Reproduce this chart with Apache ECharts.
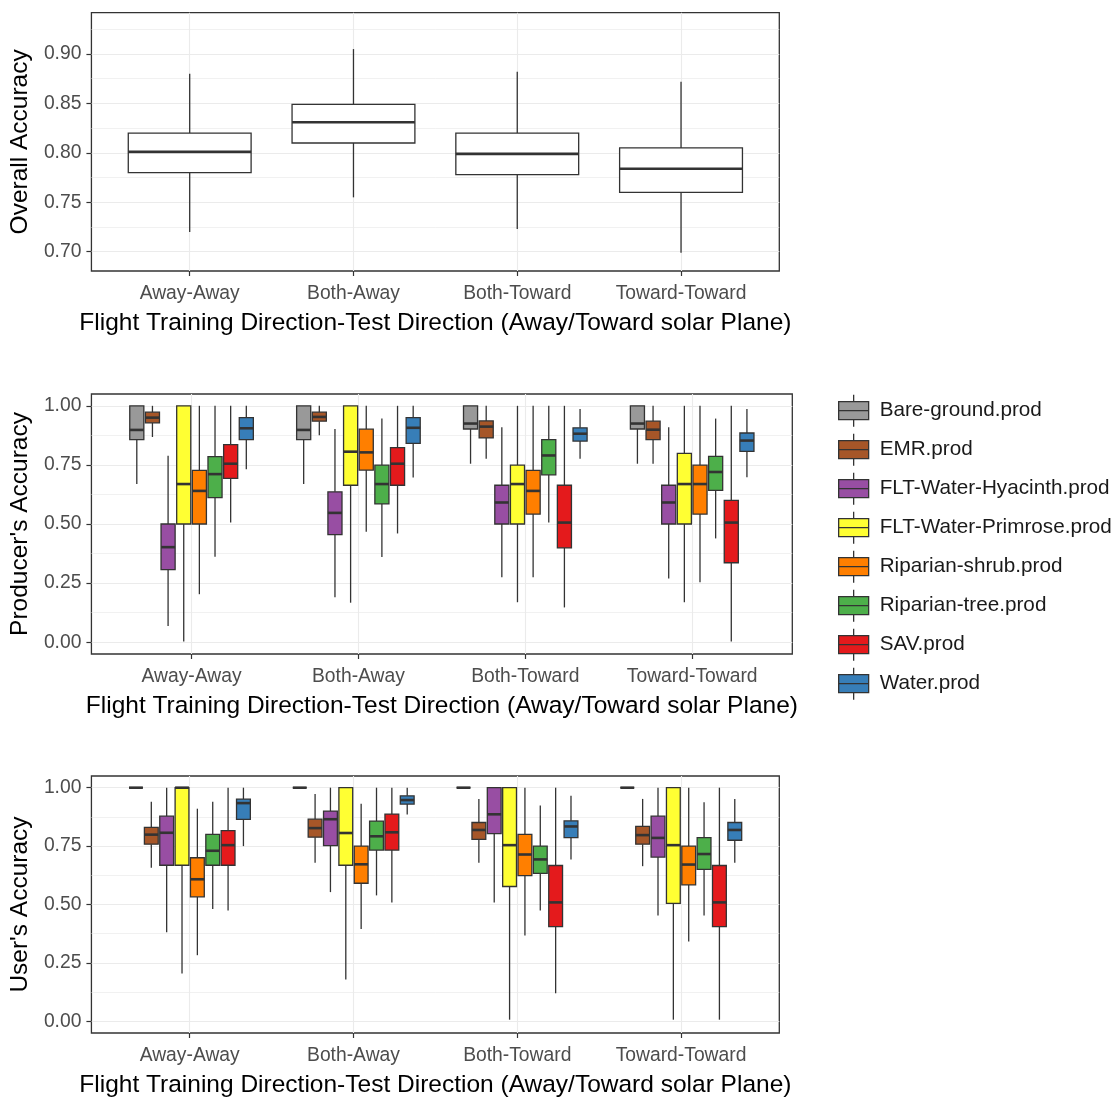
<!DOCTYPE html>
<html>
<head>
<meta charset="utf-8">
<title>Accuracy by flight direction</title>
<script src="https://cdn.jsdelivr.net/npm/echarts@6/dist/echarts.min.js"></script>
<style>
  html, body { margin: 0; padding: 0; background: #ffffff; }
  #chart { width: 1119px; height: 1099px; }
</style>
</head>
<body>
<div id="chart"></div>
<script>
// Category labels (training direction - test direction)
const directions = ['Away-Away', 'Both-Away', 'Both-Toward', 'Toward-Toward'];

// Land-cover classes and their fills
const classNames = [
  'Bare-ground.prod', 'EMR.prod', 'FLT-Water-Hyacinth.prod', 'FLT-Water-Primrose.prod',
  'Riparian-shrub.prod', 'Riparian-tree.prod', 'SAV.prod', 'Water.prod'
];
const classColors = ['#999999', '#A65628', '#984EA3', '#FFFF33', '#FF7F00', '#4DAF4A', '#E41A1C', '#377EB8'];

// Each entry: [lower whisker, Q1, median, Q3, upper whisker], one per direction
const overallAccuracy = [
  [0.720, 0.780, 0.801, 0.820, 0.880],
  [0.755, 0.810, 0.831, 0.849, 0.905],
  [0.723, 0.778, 0.799, 0.820, 0.882],
  [0.699, 0.760, 0.784, 0.805, 0.872]
];

// Producer's accuracy per class
const prodBareGround = [[0.669, 0.857, 0.898, 1.0, 1.0], [0.669, 0.857, 0.898, 1.0, 1.0], [0.755, 0.902, 0.925, 1.0, 1.0], [0.755, 0.902, 0.925, 1.0, 1.0]];
const prodEMR = [[0.868, 0.928, 0.950, 0.973, 1.0], [0.875, 0.935, 0.953, 0.973, 1.0], [0.776, 0.864, 0.912, 0.936, 1.0], [0.755, 0.857, 0.899, 0.935, 1.0]];
const prodHyacinth = [[0.068, 0.307, 0.402, 0.500, 0.789], [0.190, 0.455, 0.547, 0.636, 0.902], [0.275, 0.500, 0.591, 0.664, 0.909], [0.269, 0.500, 0.591, 0.664, 0.909]];
const prodPrimrose = [[0.003, 0.500, 0.669, 1.0, 1.0], [0.167, 0.664, 0.806, 1.0, 1.0], [0.169, 0.500, 0.669, 0.749, 1.0], [0.169, 0.500, 0.669, 0.799, 1.0]];
const prodRipShrub = [[0.203, 0.500, 0.640, 0.727, 1.0], [0.467, 0.728, 0.803, 0.901, 1.0], [0.275, 0.542, 0.640, 0.727, 1.0], [0.254, 0.542, 0.669, 0.749, 1.0]];
const prodRipTree = [[0.361, 0.612, 0.711, 0.785, 1.0], [0.360, 0.585, 0.669, 0.749, 0.946], [0.506, 0.708, 0.790, 0.857, 1.0], [0.439, 0.642, 0.720, 0.786, 0.946]];
const prodSAV = [[0.506, 0.693, 0.755, 0.836, 1.0], [0.460, 0.664, 0.755, 0.823, 1.0], [0.147, 0.399, 0.506, 0.664, 1.0], [0.003, 0.336, 0.506, 0.600, 1.0]];
const prodWater = [[0.732, 0.857, 0.905, 0.950, 1.0], [0.697, 0.841, 0.907, 0.950, 1.0], [0.776, 0.851, 0.882, 0.907, 0.987], [0.698, 0.807, 0.853, 0.885, 0.987]];

// User's accuracy per class
const userBareGround = [[1.0, 1.0, 1.0, 1.0, 1.0], [1.0, 1.0, 1.0, 1.0, 1.0], [1.0, 1.0, 1.0, 1.0, 1.0], [1.0, 1.0, 1.0, 1.0, 1.0]];
const userEMR = [[0.657, 0.758, 0.799, 0.830, 0.940], [0.679, 0.788, 0.827, 0.865, 0.973], [0.679, 0.779, 0.819, 0.851, 0.952], [0.664, 0.758, 0.797, 0.834, 0.952]];
const userHyacinth = [[0.381, 0.668, 0.807, 0.878, 1.0], [0.553, 0.752, 0.865, 0.900, 1.0], [0.509, 0.803, 0.886, 1.0, 1.0], [0.453, 0.703, 0.785, 0.878, 1.0]];
const userPrimrose = [[0.205, 0.668, 1.0, 1.0, 1.0], [0.179, 0.668, 0.806, 1.0, 1.0], [0.007, 0.577, 0.754, 1.0, 1.0], [0.007, 0.505, 0.754, 1.0, 1.0]];
const userRipShrub = [[0.283, 0.533, 0.608, 0.700, 0.910], [0.395, 0.591, 0.672, 0.750, 0.931], [0.367, 0.624, 0.714, 0.800, 1.0], [0.342, 0.584, 0.671, 0.750, 1.0]];
const userRipTree = [[0.481, 0.668, 0.730, 0.800, 0.940], [0.539, 0.733, 0.792, 0.857, 1.0], [0.474, 0.633, 0.693, 0.750, 0.924], [0.453, 0.650, 0.716, 0.786, 0.938]];
const userSAV = [[0.474, 0.668, 0.754, 0.816, 1.0], [0.509, 0.733, 0.809, 0.887, 1.0], [0.120, 0.405, 0.509, 0.667, 1.0], [0.007, 0.405, 0.509, 0.667, 1.0]];
const userWater = [[0.750, 0.864, 0.934, 0.951, 1.0], [0.885, 0.930, 0.947, 0.965, 1.0], [0.693, 0.786, 0.834, 0.858, 0.966], [0.679, 0.775, 0.819, 0.851, 0.952]];

// Tick values
const overallTicks = [0.70, 0.75, 0.80, 0.85, 0.90];
const overallMinor = [0.725, 0.775, 0.825, 0.875, 0.925];
const classTicks = [0, 0.25, 0.5, 0.75, 1.0];
const classMinor = [0.125, 0.375, 0.625, 0.875];

const producerSeries = [prodBareGround, prodEMR, prodHyacinth, prodPrimrose, prodRipShrub, prodRipTree, prodSAV, prodWater];
const userSeries = [userBareGround, userEMR, userHyacinth, userPrimrose, userRipShrub, userRipTree, userSAV, userWater];

const FONT = 'Liberation Sans, Arial, sans-serif';
const INK = '#333333';
const GRID_LINE = '#EBEBEB';
const GROUP_WIDTH = 0.75;

// Box-and-whisker drawn in data coordinates; slot/nSlots dodge boxes within a category
function boxRenderer(slot, nSlots, fill) {
  return function (params, api) {
    const slotW = GROUP_WIDTH / nSlots;
    const x = api.value(0) - GROUP_WIDTH / 2 + slotW * (slot + 0.5);
    const boxW = nSlots > 1 ? slotW * 0.9 : slotW;
    const pLow = api.coord([x, api.value(1)]);
    const pQ1 = api.coord([x, api.value(2)]);
    const pMed = api.coord([x, api.value(3)]);
    const pQ3 = api.coord([x, api.value(4)]);
    const pHigh = api.coord([x, api.value(5)]);
    const half = api.size([boxW, 0])[0] / 2;
    const lw = 1.3;
    return {
      type: 'group',
      children: [
        { type: 'line', shape: { x1: pLow[0], y1: pLow[1], x2: pQ1[0], y2: pQ1[1] }, style: { stroke: INK, lineWidth: lw } },
        { type: 'line', shape: { x1: pQ3[0], y1: pQ3[1], x2: pHigh[0], y2: pHigh[1] }, style: { stroke: INK, lineWidth: lw } },
        { type: 'rect', shape: { x: pQ1[0] - half, y: pQ3[1], width: half * 2, height: pQ1[1] - pQ3[1] },
          style: { fill: fill, stroke: INK, lineWidth: lw } },
        { type: 'line', shape: { x1: pMed[0] - half, y1: pMed[1], x2: pMed[0] + half, y2: pMed[1] },
          style: { stroke: INK, lineWidth: 2.6 } }
      ]
    };
  };
}

function toItems(stats) {
  return stats.map((s, i) => [i + 1].concat(s));
}

const tickLabelStyle = { fontFamily: FONT, fontSize: 19.3, color: '#4D4D4D' };
const nameStyle = { fontFamily: FONT, fontSize: 24.5, color: '#000000' };

function xAxisFor(gridIndex, name) {
  return {
    type: 'value', gridIndex: gridIndex, min: 0.4, max: 4.6, position: 'bottom',
    name: name, nameLocation: 'middle', nameGap: 40, nameTextStyle: nameStyle,
    axisLine: { show: false, onZero: false },
    axisTick: { show: true, length: 5, customValues: [1, 2, 3, 4], lineStyle: { color: INK, width: 1.2 } },
    axisLabel: { customValues: [1, 2, 3, 4], margin: 13, formatter: v => directions[Math.round(v) - 1], ...tickLabelStyle },
    splitLine: { show: true, lineStyle: { color: GRID_LINE, width: 1.1 } }
  };
}

function yAxesFor(gridIndex, name, min, max, ticks, minor) {
  return [{
    type: 'value', gridIndex: gridIndex, min: min, max: max, position: 'left',
    name: name, nameLocation: 'middle', nameGap: 50, nameTextStyle: nameStyle,
    axisLine: { show: false, onZero: false },
    axisTick: { show: true, length: 5, customValues: ticks, lineStyle: { color: INK, width: 1.2 } },
    axisLabel: { customValues: ticks, margin: 10, formatter: v => v.toFixed(2), ...tickLabelStyle },
    splitLine: { show: true, lineStyle: { color: GRID_LINE, width: 1.1 } }
  }, {
    type: 'value', gridIndex: gridIndex, min: min, max: max, position: 'left',
    axisLine: { show: false, onZero: false },
    axisTick: { show: false, customValues: minor },
    axisLabel: { show: false },
    splitLine: { show: true, lineStyle: { color: GRID_LINE, width: 0.7 } }
  }];
}

const xTitle = 'Flight Training Direction-Test Direction (Away/Toward solar Plane)';

const series = [{
  name: 'Overall Accuracy', type: 'custom', xAxisIndex: 0, yAxisIndex: 0,
  renderItem: boxRenderer(0, 1, '#FFFFFF'),
  encode: { x: 0, y: [1, 2, 3, 4, 5] },
  data: toItems(overallAccuracy), z: 3
}];

classNames.forEach((name, i) => {
  series.push({
    name: name, type: 'custom', xAxisIndex: 1, yAxisIndex: 2,
    color: classColors[i], itemStyle: { color: classColors[i] },
    renderItem: boxRenderer(i, classNames.length, classColors[i]),
    encode: { x: 0, y: [1, 2, 3, 4, 5] },
    data: toItems(producerSeries[i]), z: 3
  });
  series.push({
    name: name, type: 'custom', xAxisIndex: 2, yAxisIndex: 4,
    color: classColors[i], itemStyle: { color: classColors[i] },
    renderItem: boxRenderer(i, classNames.length, classColors[i]),
    encode: { x: 0, y: [1, 2, 3, 4, 5] },
    data: toItems(userSeries[i]), z: 3
  });
});

const gridFrame = { show: true, borderColor: INK, borderWidth: 1.3, backgroundColor: 'transparent', containLabel: false };

const option = {
  animation: false,
  backgroundColor: '#FFFFFF',
  textStyle: { fontFamily: FONT },
  grid: [
    { left: 90.7, top: 12.7, width: 688.6, height: 258.3, ...gridFrame },
    { left: 90.7, top: 394, width: 701.6, height: 260, ...gridFrame },
    { left: 90.7, top: 776, width: 688.6, height: 260, ...gridFrame }
  ],
  xAxis: [xAxisFor(0, xTitle), xAxisFor(1, xTitle), xAxisFor(2, xTitle)],
  yAxis: [].concat(
    yAxesFor(0, 'Overall Accuracy', 0.6805, 0.9418, overallTicks, overallMinor),
    yAxesFor(1, "Producer's Accuracy", -0.05, 1.05, classTicks, classMinor),
    yAxesFor(2, "User's Accuracy", -0.05, 1.05, classTicks, classMinor)
  ),
  legend: {
    orient: 'vertical', left: 833, top: 389,
    data: classNames,
    icon: 'path://M0,7H30V25H0Z M0,16H30 M15,0V7 M15,25V32',
    itemWidth: 30, itemHeight: 32, itemGap: 5.7,
    itemStyle: { borderColor: INK, borderWidth: 1.3 },
    textStyle: { fontFamily: FONT, fontSize: 20.7, color: '#1A1A1A', padding: [0, 0, 0, 6] },
    selectedMode: false
  },
  series: series
};

const chart = echarts.init(document.getElementById('chart'), null, { renderer: 'canvas' });
chart.setOption(option);
</script>
</body>
</html>
